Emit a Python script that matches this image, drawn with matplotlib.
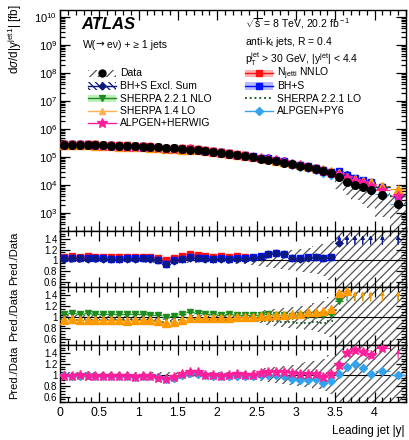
import numpy as np
import matplotlib
matplotlib.use("Agg")
import matplotlib.pyplot as plt
from matplotlib.lines import Line2D
from matplotlib.patches import Rectangle
from matplotlib.ticker import MultipleLocator, LogLocator, NullFormatter, FixedLocator

plt.rcParams["font.family"] = ["Liberation Sans", "DejaVu Sans"]
plt.rcParams["mathtext.fontset"] = "custom"
plt.rcParams["mathtext.rm"] = "Liberation Sans"
plt.rcParams["mathtext.it"] = "Liberation Sans:italic"
plt.rcParams["hatch.linewidth"] = 0.9

# binning in leading jet |y|
edges = np.array([0.0, 0.1, 0.2, 0.3, 0.4, 0.5, 0.6, 0.7, 0.8, 0.9,
                  1.0, 1.1, 1.2, 1.3, 1.4, 1.5, 1.6, 1.7, 1.8, 1.9,
                  2.0, 2.1, 2.2, 2.3, 2.4, 2.5, 2.6, 2.7, 2.8, 2.9,
                  3.0, 3.1, 3.2, 3.3, 3.4, 3.5, 3.6, 3.7, 3.8, 3.9,
                  4.0, 4.2, 4.4])

# measured cross section [fb] and relative total uncertainty
data_xs = [2.75e5, 2.78e5, 2.76e5, 2.72e5, 2.68e5, 2.63e5, 2.58e5, 2.52e5, 2.47e5, 2.41e5,
           2.35e5, 2.28e5, 2.21e5, 2.12e5, 2.04e5, 1.95e5, 1.85e5, 1.75e5, 1.65e5, 1.55e5,
           1.45e5, 1.32e5, 1.18e5, 1.10e5, 1.00e5, 8.9e4, 8.1e4, 7.2e4, 6.3e4, 5.6e4,
           5.0e4, 4.4e4, 3.8e4, 3.3e4, 2.7e4, 1.9e4, 1.3e4, 1.0e4, 8.3e3, 6.8e3,
           4.5e3, 2.1e3]
data_err = [0.05, 0.05, 0.05, 0.05, 0.05, 0.05, 0.05, 0.05, 0.05, 0.05,
            0.05, 0.05, 0.05, 0.05, 0.05, 0.05, 0.05, 0.05, 0.05, 0.05,
            0.05, 0.06, 0.06, 0.07, 0.09, 0.11, 0.13, 0.15, 0.17, 0.19,
            0.21, 0.23, 0.26, 0.30, 0.36, 0.62, 0.66, 0.70, 0.74, 0.78,
            0.84, 0.92]

# predictions / data
njetti = [1.07, 1.08, 1.07, 1.08, 1.07, 1.07, 1.06, 1.07, 1.06, 1.06,
          1.07, 1.07, 1.05, 1.01, 1.05, 1.08, 1.11, 1.10, 1.08, 1.07,
          1.08, 1.07, 1.08, 1.07] + [np.nan] * 18
bhs = [1.04, 1.05, 1.05, 1.04, 1.05, 1.04, 1.03, 1.03, 1.04, 1.04,
       1.05, 1.04, 1.01, 0.94, 1.00, 1.03, 1.06, 1.05, 1.04, 1.03,
       1.04, 1.03, 1.04, 1.04, 1.06, 1.08, 1.12, 1.14, 1.12, 1.05,
       1.04, 1.06, 1.07, 1.05, 1.07, 1.70, 1.80, 1.75, 1.80, 1.85,
       1.90, 1.95]
bhs_excl = [1.03, 1.04, 1.04, 1.03, 1.04, 1.03, 1.02, 1.02, 1.03, 1.03,
            1.04, 1.03, 1.00, 0.93, 0.99, 1.02, 1.05, 1.04, 1.03, 1.02,
            1.03, 1.02, 1.03, 1.03, 1.05, 1.07, 1.11, 1.13, 1.11, 1.04,
            1.03, 1.05, 1.06, 1.04, 1.06, 1.33, 1.70, 1.72, 1.75, 1.80,
            1.85, 1.90]
sherpa_nlo = [1.07, 1.08, 1.07, 1.08, 1.07, 1.06, 1.07, 1.06, 1.06, 1.07,
              1.06, 1.05, 1.05, 1.00, 1.02, 1.06, 1.09, 1.08, 1.07, 1.06,
              1.05, 1.06, 1.05, 1.04, 1.05, 1.04, 1.06, 1.05, 1.04, 1.03,
              1.04, 1.05, 1.05, 1.04, 1.06, 1.30, 1.75, 1.80, 1.75, 1.80,
              1.90, 2.00]
sherpa14 = [0.96, 0.97, 0.96, 0.96, 0.95, 0.96, 0.95, 0.95, 0.94, 0.95,
            0.96, 0.95, 0.94, 0.90, 0.92, 0.96, 0.99, 0.99, 0.98, 0.98,
            0.99, 0.99, 1.00, 1.01, 1.00, 1.02, 1.03, 1.04, 1.05, 1.06,
            1.07, 1.09, 1.10, 1.11, 1.16, 1.45, 1.47, 1.64, 1.74, 1.83,
            2.10, 3.40]
sherpa_lo = [0.97, 0.97, 0.96, 0.97, 0.96, 0.96, 0.95, 0.96, 0.95, 0.95,
             0.96, 0.95, 0.94, 0.91, 0.93, 0.96, 0.98, 0.97, 0.96, 0.95,
             0.95, 0.95, 0.95, 0.94, 0.94, 0.93, 0.94, 0.93, 0.92, 0.91,
             0.90, 0.90, 0.91, 0.90, 0.93, 1.13, 1.70, 1.75, 1.75, 1.80,
             1.85, 1.90]
alpgen_hw = [0.98, 0.98, 0.99, 0.98, 0.98, 0.97, 0.98, 0.97, 0.97, 0.96,
             0.98, 0.98, 0.95, 0.93, 0.96, 1.01, 1.06, 1.05, 1.00, 0.99,
             0.98, 0.99, 1.01, 1.00, 1.00, 1.03, 1.05, 1.06, 1.06, 1.03,
             1.02, 1.02, 1.02, 0.96, 1.02, 1.19, 1.41, 1.46, 1.42, 1.37,
             1.49, 2.00]
alpgen_py6 = [0.99, 0.98, 0.98, 0.99, 0.98, 0.98, 0.97, 0.98, 0.97, 0.96,
              0.98, 0.98, 0.96, 0.93, 0.95, 1.00, 1.03, 1.02, 0.99, 0.98,
              0.97, 0.97, 0.98, 0.98, 0.98, 1.00, 1.00, 1.00, 0.98, 0.92,
              0.91, 0.91, 0.92, 0.85, 0.88, 1.02, 1.15, 1.20, 1.12, 1.02,
              1.08, 1.00]

lo, hi = edges[:-1], edges[1:]
xc = 0.5 * (lo + hi)
xw = 0.5 * (hi - lo)
data_xs = np.array(data_xs)
data_err = np.array(data_err)

RYMIN, RYMAX = 0.5, 1.55

# colours
C_DATA = "black"
C_NJETTI, C_NJETTI_BAND = "#ff1010", "#ff8080"
C_BHS, C_BHS_BAND = "#0010ff", "#8c8cff"
C_EXCL = "#0a1a80"
C_SNLO, C_SNLO_BAND = "#1f8a1f", "#8fe88f"
C_S14, C_S14_LINE = "#ff9900", "#ffb050"
C_SLO = "#0b4d0b"
C_AHW = "#ff1f9a"
C_APY = "#33a3f0"
HATCH_C = "#555555"

fig = plt.figure(figsize=(4.09, 4.40), dpi=100)
L, W = 60 / 409, 346 / 409
ax0 = fig.add_axes([L, 1 - 231 / 440, W, 221 / 440])
ax1 = fig.add_axes([L, 1 - 287 / 440, W, 56 / 440])
ax2 = fig.add_axes([L, 1 - 345 / 440, W, 58 / 440])
ax3 = fig.add_axes([L, 1 - 402 / 440, W, 57 / 440])


def step(vals):
    v = np.asarray(vals, dtype=float)
    return np.append(v, v[-1])


def hatch_band(ax, low, high):
    ax.fill_between(edges, step(low), step(high), step="post", facecolor="none",
                    edgecolor=HATCH_C, hatch="////", linewidth=0, zorder=1)


def band(ax, r, half, color, alpha=0.5, hatch=None):
    r = np.asarray(r, dtype=float)
    if hatch:
        ax.fill_between(edges, step(r - half), step(r + half), step="post",
                        facecolor="none", edgecolor=color, hatch=hatch,
                        linewidth=0, alpha=0.6, zorder=2)
    else:
        ax.fill_between(edges, step(r - half), step(r + half), step="post",
                        facecolor=color, alpha=alpha, linewidth=0, zorder=2)


def ratio_points(ax, r, color, marker, ms=4.5, lw=0.8):
    r = np.asarray(r, dtype=float)
    inside = r <= RYMAX
    ax.errorbar(xc[inside], r[inside], xerr=xw[inside], fmt=marker, color=color,
                ms=ms, lw=lw, capsize=0, zorder=4)
    # out-of-range ratios shown as arrows
    for x, v in zip(xc[~inside], r[~inside]):
        if np.isnan(v):
            continue
        ax.annotate("", xy=(x, RYMAX - 0.03), xytext=(x, RYMAX - 0.3),
                    arrowprops=dict(arrowstyle="-|>", color=color, lw=0.8,
                                    mutation_scale=5), zorder=4)


# --- main panel ---
hatch_band(ax0, data_xs * (1 - data_err), data_xs * (1 + data_err))
preds = [
    (alpgen_py6, C_APY, "D", 4),
    (sherpa_nlo, C_SNLO, "v", 5),
    (bhs_excl, C_EXCL, "D", 4),
    (bhs, C_BHS, "s", 4.5),
    (njetti, C_NJETTI, "s", 4.5),
    (sherpa14, C_S14, "^", 6),
    (alpgen_hw, C_AHW, "*", 7),
]
for r, c, m, ms in preds:
    ax0.errorbar(xc, data_xs * np.asarray(r, dtype=float), xerr=xw, fmt=m, color=c,
                 ms=ms, lw=0.8, capsize=0, zorder=3)
ax0.hlines(data_xs * np.asarray(sherpa_lo), lo, hi, colors=C_SLO,
           linestyles=":", lw=1.2, zorder=3)
ax0.errorbar(xc, data_xs, yerr=data_xs * data_err * 0.3, fmt="o", color=C_DATA,
             ms=5.5, lw=0.8, capsize=0, zorder=5)

ax0.set_yscale("log")
ax0.set_ylim(2.3e2, 1.8e10)

# --- ratio panels ---
ones = np.ones_like(xc)
for ax in (ax1, ax2, ax3):
    hatch_band(ax, ones - data_err, ones + data_err)
    ax.axhline(1.0, color="black", lw=0.8, zorder=3)

band(ax1, njetti, 0.03, C_NJETTI_BAND)
band(ax1, bhs, 0.04, C_BHS_BAND)
band(ax1, bhs_excl, 0.03, C_EXCL, hatch="\\\\\\\\")
ratio_points(ax1, njetti, C_NJETTI, "s", ms=4)
ratio_points(ax1, bhs, C_BHS, "s", ms=4)
ratio_points(ax1, bhs_excl, C_EXCL, "D", ms=3.5)

band(ax2, sherpa_nlo, 0.03, C_SNLO_BAND)
ax2.hlines(sherpa_lo, lo, hi, colors=C_SLO, linestyles=":", lw=1.2, zorder=3)
ratio_points(ax2, sherpa_nlo, C_SNLO, "v", ms=5)
ratio_points(ax2, sherpa14, C_S14, "^", ms=5.5)

ratio_points(ax3, alpgen_py6, C_APY, "D", ms=4)
ratio_points(ax3, alpgen_hw, C_AHW, "*", ms=7)

# --- axes styling ---
for ax in (ax0, ax1, ax2, ax3):
    ax.set_xlim(0, 4.4)
    ax.xaxis.set_major_locator(MultipleLocator(0.5))
    ax.xaxis.set_minor_locator(MultipleLocator(0.1))
    ax.tick_params(which="both", direction="in", top=True, right=True, width=0.9)
    ax.tick_params(axis="y", labelsize=8)
    ax.tick_params(axis="x", labelsize=8.8)
    ax.tick_params(which="major", length=7)
    ax.tick_params(which="minor", length=3.5)
    for s in ax.spines.values():
        s.set_linewidth(1.0)

for ax in (ax1, ax2, ax3):
    ax.set_ylim(RYMIN, RYMAX)
    ax.yaxis.set_major_locator(FixedLocator([0.6, 0.8, 1.0, 1.2, 1.4]))
    ax.yaxis.set_minor_locator(MultipleLocator(0.05))
    ax.set_yticklabels(["0.6", "0.8", "1", "1.2", "1.4"])
    ax.tick_params(axis="y", pad=2, labelsize=7)
    ax.text(14 / 409, ax.get_position().y1 - 1 / 440, "Pred./Data",
            transform=fig.transFigure, rotation=90, ha="center", va="top",
            fontsize=8)

for ax in (ax0, ax1, ax2):
    ax.tick_params(labelbottom=False)

ax3.set_xticks([0, 0.5, 1, 1.5, 2, 2.5, 3, 3.5, 4])
ax3.set_xticklabels(["0", "0.5", "1", "1.5", "2", "2.5", "3", "3.5", "4"])

ax0.yaxis.set_major_locator(LogLocator(base=10, numticks=20))
ax0.yaxis.set_minor_locator(LogLocator(base=10, subs=np.arange(2, 10), numticks=100))
ax0.yaxis.set_minor_formatter(NullFormatter())
ax0.tick_params(axis="y", pad=2)

fig.text(15 / 409, 1 - 4 / 440, r"d$\sigma$/d|y$^{\rm jet1}$| [fb]", rotation=90,
         ha="center", va="top", fontsize=8.5)
fig.text(405 / 409, 1 - 437 / 440, "Leading jet |y|", ha="right", va="bottom",
         fontsize=8.5)

# --- labels ---
ax0.text(0.063, 0.935, "ATLAS", transform=ax0.transAxes, fontsize=12,
         fontweight="bold", fontstyle="italic", va="center")
# process label; the arrow comes from DejaVu Sans, which draws it full size
t_w = ax0.text(0.065, 0.83, "W(", transform=ax0.transAxes, fontsize=7.5,
               va="baseline")
t_arr = ax0.annotate("→", xy=(1, 0), xycoords=t_w, va="bottom", ha="left",
                     fontsize=7.5, family="DejaVu Sans")
ax0.annotate(" eν) + ≥ 1 jets", xy=(1, 0), xycoords=t_arr, va="bottom", ha="left",
             fontsize=7.5)
ax0.text(0.535, 0.94, r"$\sqrt{\rm s}$ = 8 TeV, 20.2 fb$^{\rm -1}$", transform=ax0.transAxes,
         fontsize=7.5, va="center")
ax0.text(0.535, 0.855, r"anti-k$_{\rm t}$ jets, R = 0.4", transform=ax0.transAxes,
         fontsize=7.5, va="center")
ax0.text(0.535, 0.78, r"p$_{\rm T}^{\rm jet}$ > 30 GeV, |y$^{\rm jet}$| < 4.4",
         transform=ax0.transAxes, fontsize=7.5, va="center")


# --- legend, drawn entry by entry in pixel layout of the main panel ---
def to_ax(xp, yp):
    return (xp - 60) / 346, (231 - yp) / 221


def legend_entry(xp, yp, label, color=None, marker=None, ms=4, band_color=None,
                 hatch=None, hatch_color=None, ls="-", lw=1.0):
    x0, y0 = to_ax(xp, yp - 3.5)
    x1, y1 = to_ax(xp + 28, yp + 3.5)
    if band_color is not None:
        ax0.add_patch(Rectangle((x0, y1), x1 - x0, y0 - y1, transform=ax0.transAxes,
                                facecolor=band_color, edgecolor="none", alpha=0.6,
                                zorder=6))
    if hatch is not None:
        ax0.add_patch(Rectangle((x0, y1), x1 - x0, y0 - y1, transform=ax0.transAxes,
                                facecolor="none", edgecolor=hatch_color, hatch=hatch,
                                lw=0, zorder=6))
    ym = to_ax(xp, yp)[1]
    if ls is not None:
        ax0.add_line(Line2D([x0, x1], [ym, ym], transform=ax0.transAxes, color=color,
                            ls=ls, lw=lw, zorder=7))
    if marker is not None:
        ax0.add_line(Line2D([0.5 * (x0 + x1)], [ym], transform=ax0.transAxes,
                            color=color, marker=marker, ms=ms, ls="none", zorder=8))
    tx, ty = to_ax(xp + 32, yp)
    ax0.text(tx, ty, label, transform=ax0.transAxes, fontsize=7.5, va="center",
             ha="left", zorder=8)


rows = [73.5, 86, 98.5, 111, 123.5]
legend_entry(88, rows[0], "Data", C_DATA, "o", 5, hatch="////", hatch_color=HATCH_C,
             ls=None)
legend_entry(88, rows[1], "BH+S Excl. Sum", C_EXCL, "D", 3.5, hatch="\\\\\\\\\\",
             hatch_color=C_EXCL)
legend_entry(88, rows[2], "SHERPA 2.2.1 NLO", C_SNLO, "v", 5, band_color=C_SNLO_BAND)
legend_entry(88, rows[3], "SHERPA 1.4 LO", C_S14_LINE, "^", 5)
legend_entry(88, rows[4], "ALPGEN+HERWIG", C_AHW, "*", 7)

legend_entry(245, rows[0], r"N$_{\rm jetti}$ NNLO", C_NJETTI, "s", 4,
             band_color=C_NJETTI_BAND)
legend_entry(245, rows[1], "BH+S", C_BHS, "s", 4, band_color=C_BHS_BAND)
legend_entry(245, rows[2], "SHERPA 2.2.1 LO", C_SLO, None, ls=":", lw=1.3)
legend_entry(245, rows[3], "ALPGEN+PY6", C_APY, "D", 4)

fig.savefig("out.png", dpi=100)
